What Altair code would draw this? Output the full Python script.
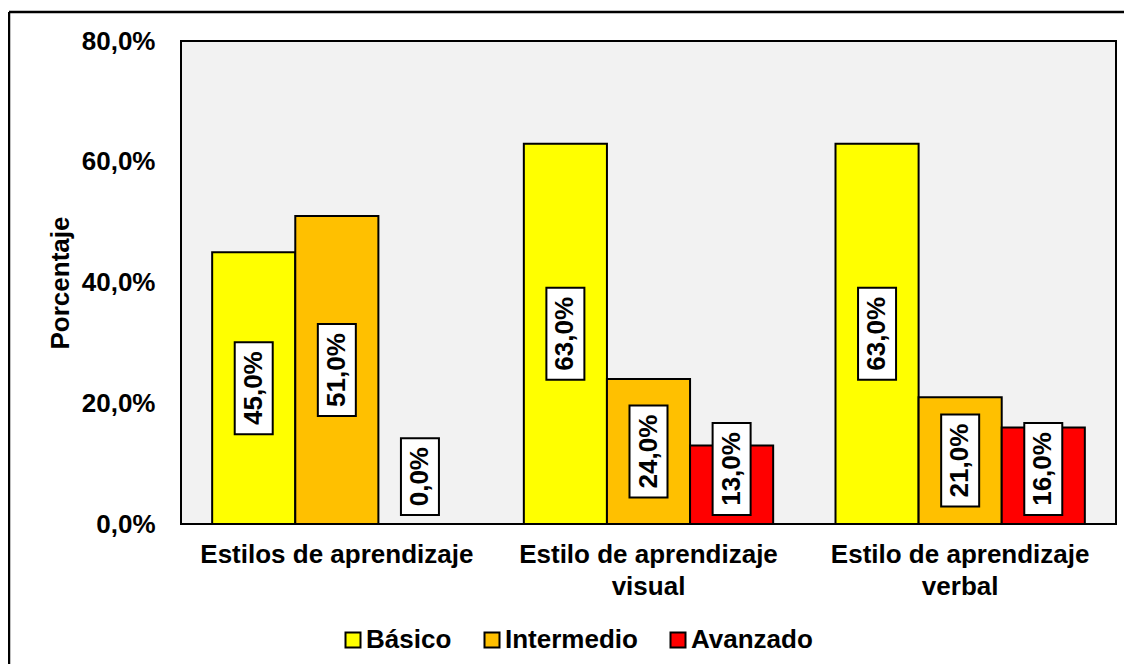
import altair as alt
import pandas as pd

categories = ["Estilos de aprendizaje", "Estilo de aprendizaje visual", "Estilo de aprendizaje verbal"]
levels = ["Básico", "Intermedio", "Avanzado"]
colors = ["#FFFF00", "#FFC000", "#FF0000"]
basico = [45.0, 63.0, 63.0]
intermedio = [51.0, 24.0, 21.0]
avanzado = [0.0, 13.0, 16.0]
y_ticks = [0, 20, 40, 60, 80]

rows = []
for i, cat in enumerate(categories):
    for lvl, series in zip(levels, [basico, intermedio, avanzado]):
        v = series[i]
        rows.append({"cat": cat, "level": lvl, "value": v,
                     "label": f"{v:.1f}".replace(".", ",") + "%"})
df = pd.DataFrame(rows)

W, H = 935, 483
FONT = "Liberation Sans"
px_per_unit = H / 80.0

x_enc = alt.X("cat:N", sort=categories, title=None,
              scale=alt.Scale(paddingInner=0.2, paddingOuter=0.1),
              axis=alt.Axis(labelAngle=0, ticks=False, domain=False, labelFontSize=26,
                            labelFont=FONT, labelFontWeight="bold", labelColor="black",
                            labelPadding=17, labelBaseline="top", labelLineHeight=32,
                            labelLimit=400,
                            labelExpr="length(datum.label) > 22 ? [slice(datum.label, 0, lastindexof(datum.label, ' ')), slice(datum.label, lastindexof(datum.label, ' ') + 1)] : datum.label"))
xo_enc = alt.XOffset("level:N", sort=levels, scale=alt.Scale(paddingInner=0, paddingOuter=0))

y_scale = alt.Scale(domain=[0, 80])

base = alt.Chart(df)

bars = base.mark_bar(stroke="black", strokeWidth=2).encode(
    x=x_enc,
    xOffset=xo_enc,
    y=alt.Y("value:Q", scale=y_scale, title="Porcentaje",
            axis=alt.Axis(values=y_ticks, grid=False, ticks=False, domain=False,
                          labelExpr="replace(format(datum.value, '.1f'), '.', ',') + '%'",
                          labelFontSize=26, labelFont=FONT, labelFontWeight="bold",
                          labelColor="black", labelPadding=26,
                          titleFontSize=26, titleFont=FONT, titleFontWeight="bold",
                          titleColor="black", titleAngle=270, titleX=-121, titleY=H / 2,
                          titleAlign="center", titleBaseline="middle")),
    color=alt.Color("level:N", sort=levels,
                    scale=alt.Scale(domain=levels, range=colors),
                    legend=alt.Legend(title=None, orient="none", direction="horizontal",
                                      legendX=159, legendY=586, padding=0,
                                      symbolType="square", symbolSize=225,
                                      symbolStrokeColor="black", symbolStrokeWidth=2,
                                      symbolOpacity=1,
                                      labelFontSize=26, labelFont=FONT,
                                      labelFontWeight="bold", labelColor="black",
                                      labelOffset=0, columnPadding=27)),
)

boxes = base.transform_calculate(
    half=f"(15.4 * length(datum.label) + 15) / 2 / {px_per_unit}",
).transform_calculate(
    center="max(datum.value / 2, datum.half + 1.5)",
).transform_calculate(
    lo="datum.center - datum.half", hi="datum.center + datum.half",
)

label_boxes = boxes.mark_bar(width=38, fill="white", stroke="black", strokeWidth=2).encode(
    x=alt.X("cat:N", sort=categories),
    xOffset=xo_enc,
    y=alt.Y("lo:Q", scale=y_scale),
    y2="hi:Q",
)

label_text = boxes.mark_text(angle=270, align="center", baseline="middle",
                             fontSize=26, font=FONT, fontWeight="bold", color="black").encode(
    x=alt.X("cat:N", sort=categories),
    xOffset=xo_enc,
    y=alt.Y("center:Q", scale=y_scale),
    text="label:N",
)

one = pd.DataFrame({"a": [0]})
frame_top = alt.Chart(one).mark_rule(stroke="black", strokeWidth=2.5).encode(
    x=alt.value(-172), x2=alt.value(1100), y=alt.value(-29))
frame_left = alt.Chart(one).mark_rule(stroke="black", strokeWidth=2.5).encode(
    x=alt.value(-172), y=alt.value(-29), y2=alt.value(800))

chart = alt.layer(bars, label_boxes, label_text, frame_top, frame_left).properties(
    width=W, height=H,
    autosize=alt.AutoSizeParams(type="none"),
    padding={"left": 173, "top": 33, "right": 8, "bottom": 140},
    background="white",
).configure(font=FONT).configure_view(
    fill="#F2F2F2", stroke="black", strokeWidth=2)

chart.save("out.html", embed_options={"renderer": "svg", "actions": False})
